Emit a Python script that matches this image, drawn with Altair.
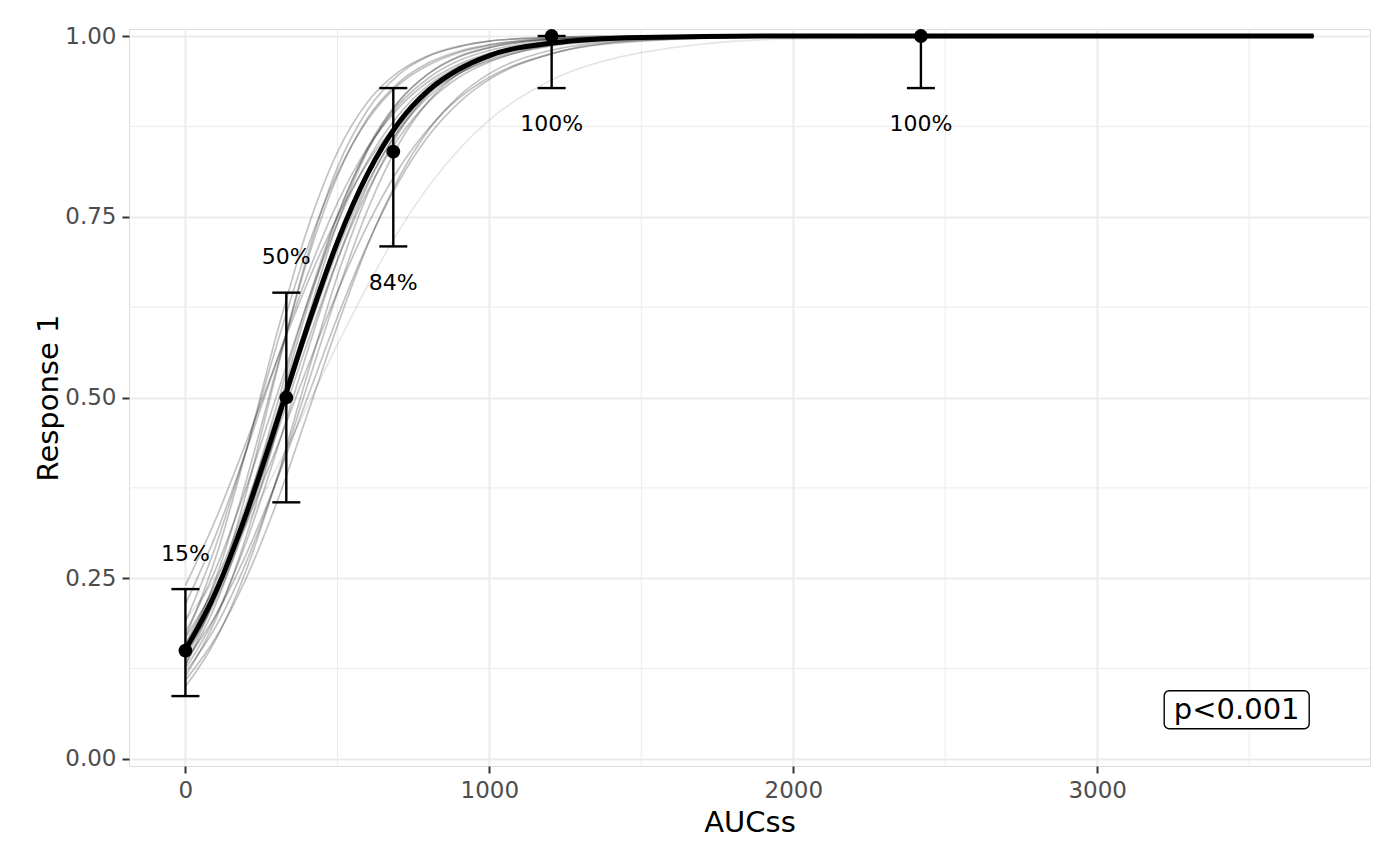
import altair as alt
import pandas as pd

# ---- data ----
x_grid = [0, 100, 200, 300, 400, 500, 600, 700, 800, 900, 1000, 1200, 1500, 2000, 3712]

main_curve = [0.151, 0.231, 0.339, 0.465, 0.596, 0.715, 0.810, 0.879, 0.925, 0.954,
              0.973, 0.990, 0.998, 1.0, 1.0]

boot_curves = [
    [0.240, 0.332, 0.438, 0.550, 0.657, 0.750, 0.825, 0.881, 0.921, 0.948, 0.966, 0.986, 0.996, 1.0, 1.0],
    [0.214, 0.310, 0.426, 0.550, 0.668, 0.769, 0.846, 0.900, 0.937, 0.961, 0.976, 0.991, 0.998, 1.0, 1.0],
    [0.190, 0.295, 0.428, 0.572, 0.705, 0.810, 0.884, 0.932, 0.960, 0.977, 0.987, 0.996, 0.999, 1.0, 1.0],
    [0.168, 0.279, 0.426, 0.587, 0.731, 0.839, 0.909, 0.950, 0.973, 0.986, 0.993, 0.998, 1.0, 1.0, 1.0],
    [0.130, 0.228, 0.368, 0.535, 0.694, 0.818, 0.898, 0.946, 0.972, 0.985, 0.993, 0.998, 1.0, 1.0, 1.0],
    [0.130, 0.214, 0.332, 0.475, 0.622, 0.750, 0.846, 0.909, 0.948, 0.971, 0.984, 0.995, 0.999, 1.0, 1.0],
    [0.114, 0.193, 0.308, 0.453, 0.606, 0.741, 0.842, 0.908, 0.948, 0.972, 0.984, 0.995, 0.999, 1.0, 1.0],
    [0.100, 0.165, 0.261, 0.387, 0.530, 0.668, 0.782, 0.865, 0.920, 0.953, 0.973, 0.992, 0.998, 1.0, 1.0],
    [0.109, 0.168, 0.250, 0.354, 0.475, 0.599, 0.711, 0.802, 0.870, 0.917, 0.948, 0.980, 0.995, 1.0, 1.0],
    [0.136, 0.199, 0.283, 0.385, 0.498, 0.611, 0.713, 0.797, 0.862, 0.908, 0.940, 0.975, 0.994, 0.999, 1.0],
    [0.168, 0.239, 0.327, 0.430, 0.540, 0.646, 0.739, 0.815, 0.872, 0.914, 0.943, 0.975, 0.993, 0.999, 1.0],
    [0.154, 0.231, 0.332, 0.450, 0.574, 0.690, 0.786, 0.858, 0.909, 0.943, 0.964, 0.987, 0.997, 1.0, 1.0],
    [0.175, 0.263, 0.375, 0.502, 0.629, 0.741, 0.828, 0.890, 0.932, 0.958, 0.975, 0.991, 0.998, 1.0, 1.0],
    [0.125, 0.198, 0.300, 0.426, 0.562, 0.690, 0.794, 0.870, 0.921, 0.953, 0.972, 0.990, 0.998, 1.0, 1.0],
    [0.160, 0.245, 0.352, 0.476, 0.604, 0.719, 0.812, 0.879, 0.925, 0.954, 0.972, 0.990, 0.998, 1.0, 1.0],
    [0.145, 0.220, 0.325, 0.455, 0.590, 0.712, 0.808, 0.877, 0.923, 0.953, 0.972, 0.990, 0.998, 1.0, 1.0],
    [0.140, 0.226, 0.345, 0.488, 0.630, 0.752, 0.843, 0.904, 0.942, 0.966, 0.980, 0.993, 0.999, 1.0, 1.0],
    [0.158, 0.236, 0.338, 0.459, 0.586, 0.703, 0.798, 0.868, 0.916, 0.948, 0.968, 0.988, 0.997, 1.0, 1.0],
    [0.150, 0.250, 0.385, 0.540, 0.688, 0.806, 0.887, 0.935, 0.963, 0.979, 0.988, 0.996, 0.999, 1.0, 1.0],
    [0.120, 0.183, 0.272, 0.385, 0.515, 0.645, 0.760, 0.849, 0.910, 0.948, 0.971, 0.991, 0.998, 1.0, 1.0],
]
outlier_curve = [0.192, 0.251, 0.322, 0.402, 0.487, 0.573, 0.655, 0.729, 0.792, 0.843, 0.884,
                 0.938, 0.977, 0.996, 1.0]

obs_x = [0, 332, 684, 1205, 2420]
obs_y = [0.15, 0.50, 0.84, 1.0, 1.0]
obs_lo = [0.087, 0.355, 0.709, 0.928, 0.928]
obs_hi = [0.235, 0.645, 0.928, 1.0, 1.0]
obs_label = ["15%", "50%", "84%", "100%", "100%"]
obs_label_y = [0.284, 0.694, 0.658, 0.878, 0.878]

p_text = ["p<0.001"]
p_x = [3459]
p_y = [0.068]

x_major = [0, 1000, 2000, 3000]
x_minor = [500, 1500, 2500, 3500]
y_major = [0, 0.25, 0.5, 0.75, 1.0]
y_minor = [0.125, 0.375, 0.625, 0.875]

x_domain = [-185.6, 3897.6]
y_domain = [-0.0097, 1.0097]

# ---- tables ----
boot_df = pd.DataFrame(
    [{"x": xv, "y": yv, "curve": i} for i, c in enumerate(boot_curves) for xv, yv in zip(x_grid, c)]
)
out_df = pd.DataFrame({"x": x_grid, "y": outlier_curve})
main_df = pd.DataFrame({"x": x_grid, "y": main_curve})
obs_df = pd.DataFrame({"x": obs_x, "y": obs_y, "lo": obs_lo, "hi": obs_hi,
                       "label": obs_label, "ly": obs_label_y})
p_df = pd.DataFrame({"x": p_x, "y": p_y, "t": p_text})
xminor_df = pd.DataFrame({"v": x_minor})
yminor_df = pd.DataFrame({"v": y_minor})

W, H = 1241, 737
FONT = "DejaVu Sans"

xs = alt.Scale(domain=x_domain, nice=False, zero=False)
ys = alt.Scale(domain=y_domain, nice=False, zero=False)

x_axis = alt.Axis(values=x_major, format="d", title="AUCss", grid=True, gridColor="#ebebeb",
                  gridWidth=2, domain=False, tickColor="#333333", tickSize=7, tickWidth=2,
                  labelFontSize=23, labelColor="#4d4d4d", labelFont=FONT,
                  labelBaseline="alphabetic", labelPadding=24,
                  titleFontSize=29, titleFontWeight="normal", titleColor="black", titleFont=FONT,
                  titleBaseline="alphabetic", titleY=65, titleX=W / 2)
y_axis = alt.Axis(values=y_major, format=".2f", title="Response 1", grid=True, gridColor="#ebebeb",
                  gridWidth=2, domain=False, tickColor="#333333", tickSize=7, tickWidth=2,
                  labelFontSize=23, labelColor="#4d4d4d", labelFont=FONT, labelPadding=6,
                  labelBaseline="middle",
                  titleFontSize=29, titleFontWeight="normal", titleColor="black", titleFont=FONT,
                  titleAngle=-90, titleBaseline="alphabetic", titleX=-72, titleY=H / 2)

xminor = alt.Chart(xminor_df).mark_rule(color="#ebebeb", strokeWidth=1).encode(
    x=alt.X("v:Q", scale=xs, axis=x_axis), y=alt.value(0), y2=alt.value(H))
yminor = alt.Chart(yminor_df).mark_rule(color="#ebebeb", strokeWidth=1).encode(
    y=alt.Y("v:Q", scale=ys, axis=y_axis), x=alt.value(0), x2=alt.value(W))

boot = alt.Chart(boot_df).mark_line(interpolate="monotone", color="black", opacity=0.24,
                                    strokeWidth=1.7).encode(
    x=alt.X("x:Q", scale=xs), y=alt.Y("y:Q", scale=ys), detail="curve:N")
outl = alt.Chart(out_df).mark_line(interpolate="monotone", color="black", opacity=0.1,
                                   strokeWidth=1.6).encode(
    x=alt.X("x:Q", scale=xs), y=alt.Y("y:Q", scale=ys))

main = alt.Chart(main_df).mark_line(interpolate="monotone", color="black", strokeWidth=5).encode(
    x=alt.X("x:Q", scale=xs), y=alt.Y("y:Q", scale=ys))

err = alt.Chart(obs_df).mark_rule(color="black", strokeWidth=2.4).encode(
    x=alt.X("x:Q", scale=xs), y=alt.Y("lo:Q", scale=ys), y2="hi:Q")
cap_lo = alt.Chart(obs_df).mark_rule(color="black", strokeWidth=2.4, xOffset=-14, x2Offset=14).encode(
    x=alt.X("x:Q", scale=xs), x2="x:Q", y=alt.Y("lo:Q", scale=ys))
cap_hi = alt.Chart(obs_df).mark_rule(color="black", strokeWidth=2.4, xOffset=-14, x2Offset=14).encode(
    x=alt.X("x:Q", scale=xs), x2="x:Q", y=alt.Y("hi:Q", scale=ys))

pts = alt.Chart(obs_df).mark_circle(color="black", size=190, opacity=1).encode(
    x=alt.X("x:Q", scale=xs), y=alt.Y("y:Q", scale=ys))

lbl = alt.Chart(obs_df).mark_text(font=FONT, fontSize=22, color="black", baseline="middle",
                                   align="center").encode(
    x=alt.X("x:Q", scale=xs), y=alt.Y("ly:Q", scale=ys), text="label:N")

pbox = alt.Chart(p_df).mark_rect(fill="white", stroke="black", strokeWidth=1.4, cornerRadius=5,
                                 xOffset=-72.5, x2Offset=72.5, yOffset=-19, y2Offset=19).encode(
    x=alt.X("x:Q", scale=xs), x2="x:Q", y=alt.Y("y:Q", scale=ys), y2="y:Q")
ptxt = alt.Chart(p_df).mark_text(font=FONT, fontSize=29, color="black", baseline="middle",
                                  align="center").encode(
    x=alt.X("x:Q", scale=xs), y=alt.Y("y:Q", scale=ys), text="t:N")

chart = alt.layer(xminor, yminor, outl, boot, main, err, cap_lo, cap_hi, pts, lbl, pbox, ptxt).properties(
    width=W, height=H,
    autosize=alt.AutoSizeParams(type="none"),
    padding={"left": 121, "top": 21, "right": 20, "bottom": 80},
).configure_view(stroke="#c8c8c8", strokeWidth=2.5).configure(font=FONT, background="white")

chart.save("out.html", embed_options={"renderer": "svg", "actions": False})
